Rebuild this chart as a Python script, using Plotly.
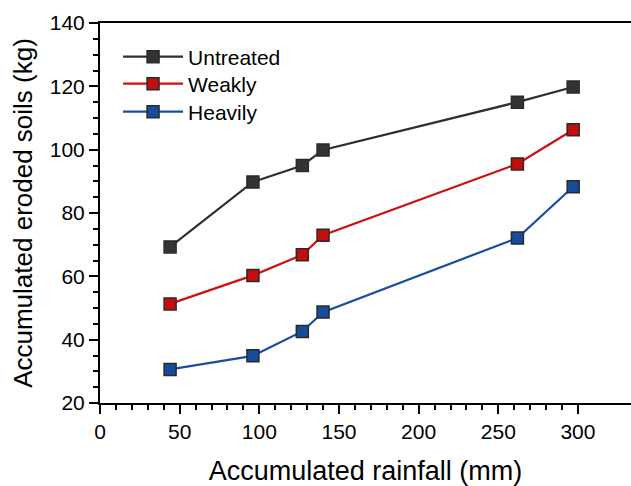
import plotly.graph_objects as go

rainfall = [44, 96, 127, 140, 262, 297]
untreated = [69.3, 89.8, 95.0, 99.9, 115.0, 119.8]
weakly = [51.3, 60.3, 66.8, 73.0, 95.5, 106.3]
heavily = [30.6, 34.9, 42.6, 48.7, 72.1, 88.3]

series = [
    ("Untreated", untreated, "#2f2f2f", "#333333"),
    ("Weakly", weakly, "#cc1111", "#c40e0e"),
    ("Heavily", heavily, "#174ea0", "#154c9c"),
]
legend_ids = ["legend", "legend2", "legend3"]
legend_rows_y = [0.9105, 0.8395, 0.7658]

x_major = [0, 50, 100, 150, 200, 250, 300]
x_minor = [v for v in range(0, 301, 10)]
y_major = [20, 40, 60, 80, 100, 120, 140]
y_minor = [v for v in range(20, 141, 5)]

font = "Liberation Sans, Arial, sans-serif"

fig = go.Figure()
for (name, vals, lc, mc), lid in zip(series, legend_ids):
    fig.add_trace(go.Scatter(
        x=rainfall, y=vals, name=name, mode="lines+markers",
        line=dict(color=lc, width=2.2),
        marker=dict(symbol="square", size=12, color=mc,
                    line=dict(color="#2a2a2a", width=1.5)),
        legend=lid,
    ))

legend_cfg = {}
for lid, ly in zip(legend_ids, legend_rows_y):
    legend_cfg[lid] = dict(x=0.034, y=ly, xanchor="left", yanchor="middle",
                           font=dict(size=21, family=font), bgcolor="rgba(0,0,0,0)",
                           itemwidth=60)

fig.update_layout(
    width=631, height=486,
    margin=dict(l=100, r=0, t=23, b=83),
    paper_bgcolor="white", plot_bgcolor="white",
    font=dict(family=font, color="black"),
    showlegend=True,
    **legend_cfg,
    xaxis=dict(
        range=[0, 333.3], tickmode="array", tickvals=x_major,
        ticks="outside", ticklen=9, tickwidth=2, tickcolor="black",
        showline=True, linecolor="black", linewidth=2, mirror=True,
        showgrid=False, zeroline=False,
        tickfont=dict(size=21, family=font),
        minor=dict(tickmode="array", tickvals=x_minor, ticks="outside",
                   ticklen=5, tickwidth=1.5, tickcolor="black", showgrid=False),
        title=dict(text="Accumulated rainfall (mm)", font=dict(size=27, family=font), standoff=20),
    ),
    yaxis=dict(
        range=[20, 140], tickmode="array", tickvals=y_major,
        ticks="outside", ticklen=9, tickwidth=2, tickcolor="black",
        showline=True, linecolor="black", linewidth=2, mirror=False,
        showgrid=False, zeroline=False,
        tickfont=dict(size=21, family=font),
        minor=dict(tickmode="array", tickvals=y_minor, ticks="outside",
                   ticklen=5, tickwidth=1.5, tickcolor="black", showgrid=False),
        title=dict(text="Accumulated eroded soils (kg)", font=dict(size=26, family=font), standoff=10),
    ),
)

fig.write_html("out.html")
